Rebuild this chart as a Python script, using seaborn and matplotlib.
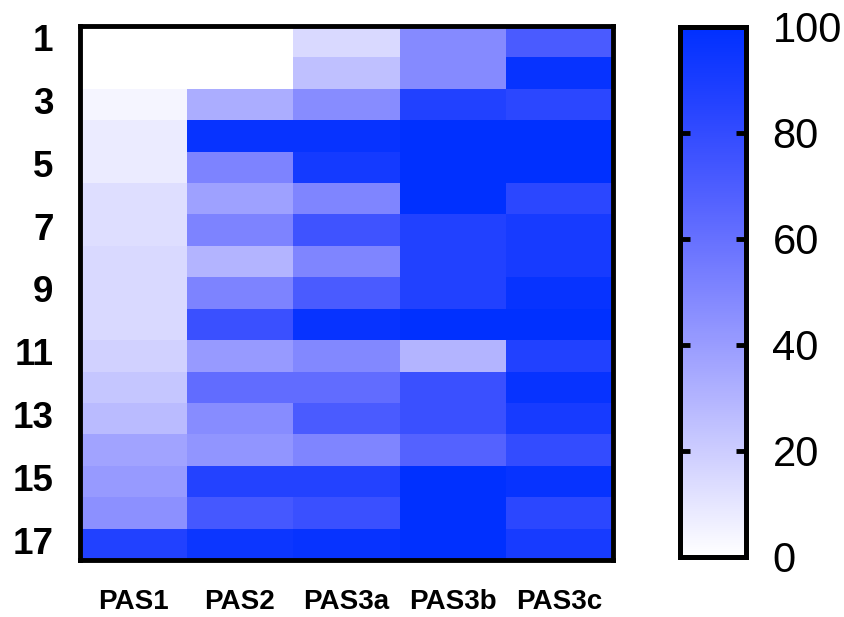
import numpy as np
import pandas as pd
import seaborn as sns
import matplotlib.pyplot as plt
from matplotlib.colors import ListedColormap

# Percent values per item (rows 1-17) for each PAS group
rows = list(range(1, 18))
pas1 = [0, 0, 4, 8, 8, 13, 13, 15, 15, 15, 18, 23, 27, 37, 41, 45, 87]
pas2 = [0, 0, 33, 97, 51, 38, 51, 30, 51, 77, 41, 62, 47, 43, 86, 73, 95]
pas3a = [15, 25, 47, 97, 92, 50, 75, 50, 71, 97, 49, 62, 71, 50, 86, 77, 97]
pas3b = [48, 48, 87, 100, 100, 100, 87, 87, 87, 100, 30, 77, 77, 67, 100, 100, 100]
pas3c = [71, 97, 83, 100, 100, 83, 91, 91, 97, 100, 87, 97, 91, 80, 97, 83, 91]
columns = ["PAS1", "PAS2", "PAS3a", "PAS3b", "PAS3c"]
row_labels = [str(r) if r % 2 == 1 else "" for r in rows]
cbar_ticks = [0, 20, 40, 60, 80, 100]

df = pd.DataFrame(
    {"PAS1": pas1, "PAS2": pas2, "PAS3a": pas3a, "PAS3b": pas3b, "PAS3c": pas3c},
    index=rows,
)[columns]

plt.rcParams["font.family"] = ["Liberation Sans", "DejaVu Sans"]

# White -> saturated blue; green lags red so mid tones stay violet-blue
t = np.linspace(0, 1, 256)
red = 1 - t
green = red + (48 / 255) * t ** 3
blue = np.ones_like(t)
cmap = ListedColormap(np.column_stack([red, green, blue]), name="white_blue")

W, H = 845, 617
fig = plt.figure(figsize=(W / 100, H / 100), dpi=100)
ax = fig.add_axes([80 / W, 1 - 560 / H, 533 / W, 534 / H])
cax = fig.add_axes([680 / W, 1 - 557 / H, 66 / W, 530 / H])

sns.heatmap(
    df, ax=ax, cbar_ax=cax, cmap=cmap, vmin=0, vmax=100,
    xticklabels=columns, yticklabels=row_labels,
    cbar_kws={"ticks": cbar_ticks},
)

for side in ax.spines.values():
    side.set_visible(True)
    side.set_linewidth(3.5)
    side.set_color("black")

ax.tick_params(axis="both", length=0)
ax.tick_params(axis="y", pad=19, labelsize=26.5)
ax.tick_params(axis="x", pad=21, labelsize=20)
for lbl in ax.get_yticklabels():
    lbl.set_fontweight("bold")
    lbl.set_rotation(0)
for lbl in ax.get_xticklabels():
    lbl.set_fontweight("bold")
    lbl.set_rotation(0)

for side in cax.spines.values():
    side.set_visible(True)
    side.set_linewidth(3.5)
    side.set_color("black")
cax.tick_params(axis="y", which="both", direction="in", left=True, right=True,
                labelleft=False, labelright=True, length=7.5, width=3.5,
                labelsize=30, pad=19)
cax.set_yticks(cbar_ticks)

fig.savefig("out.png", dpi=100)
